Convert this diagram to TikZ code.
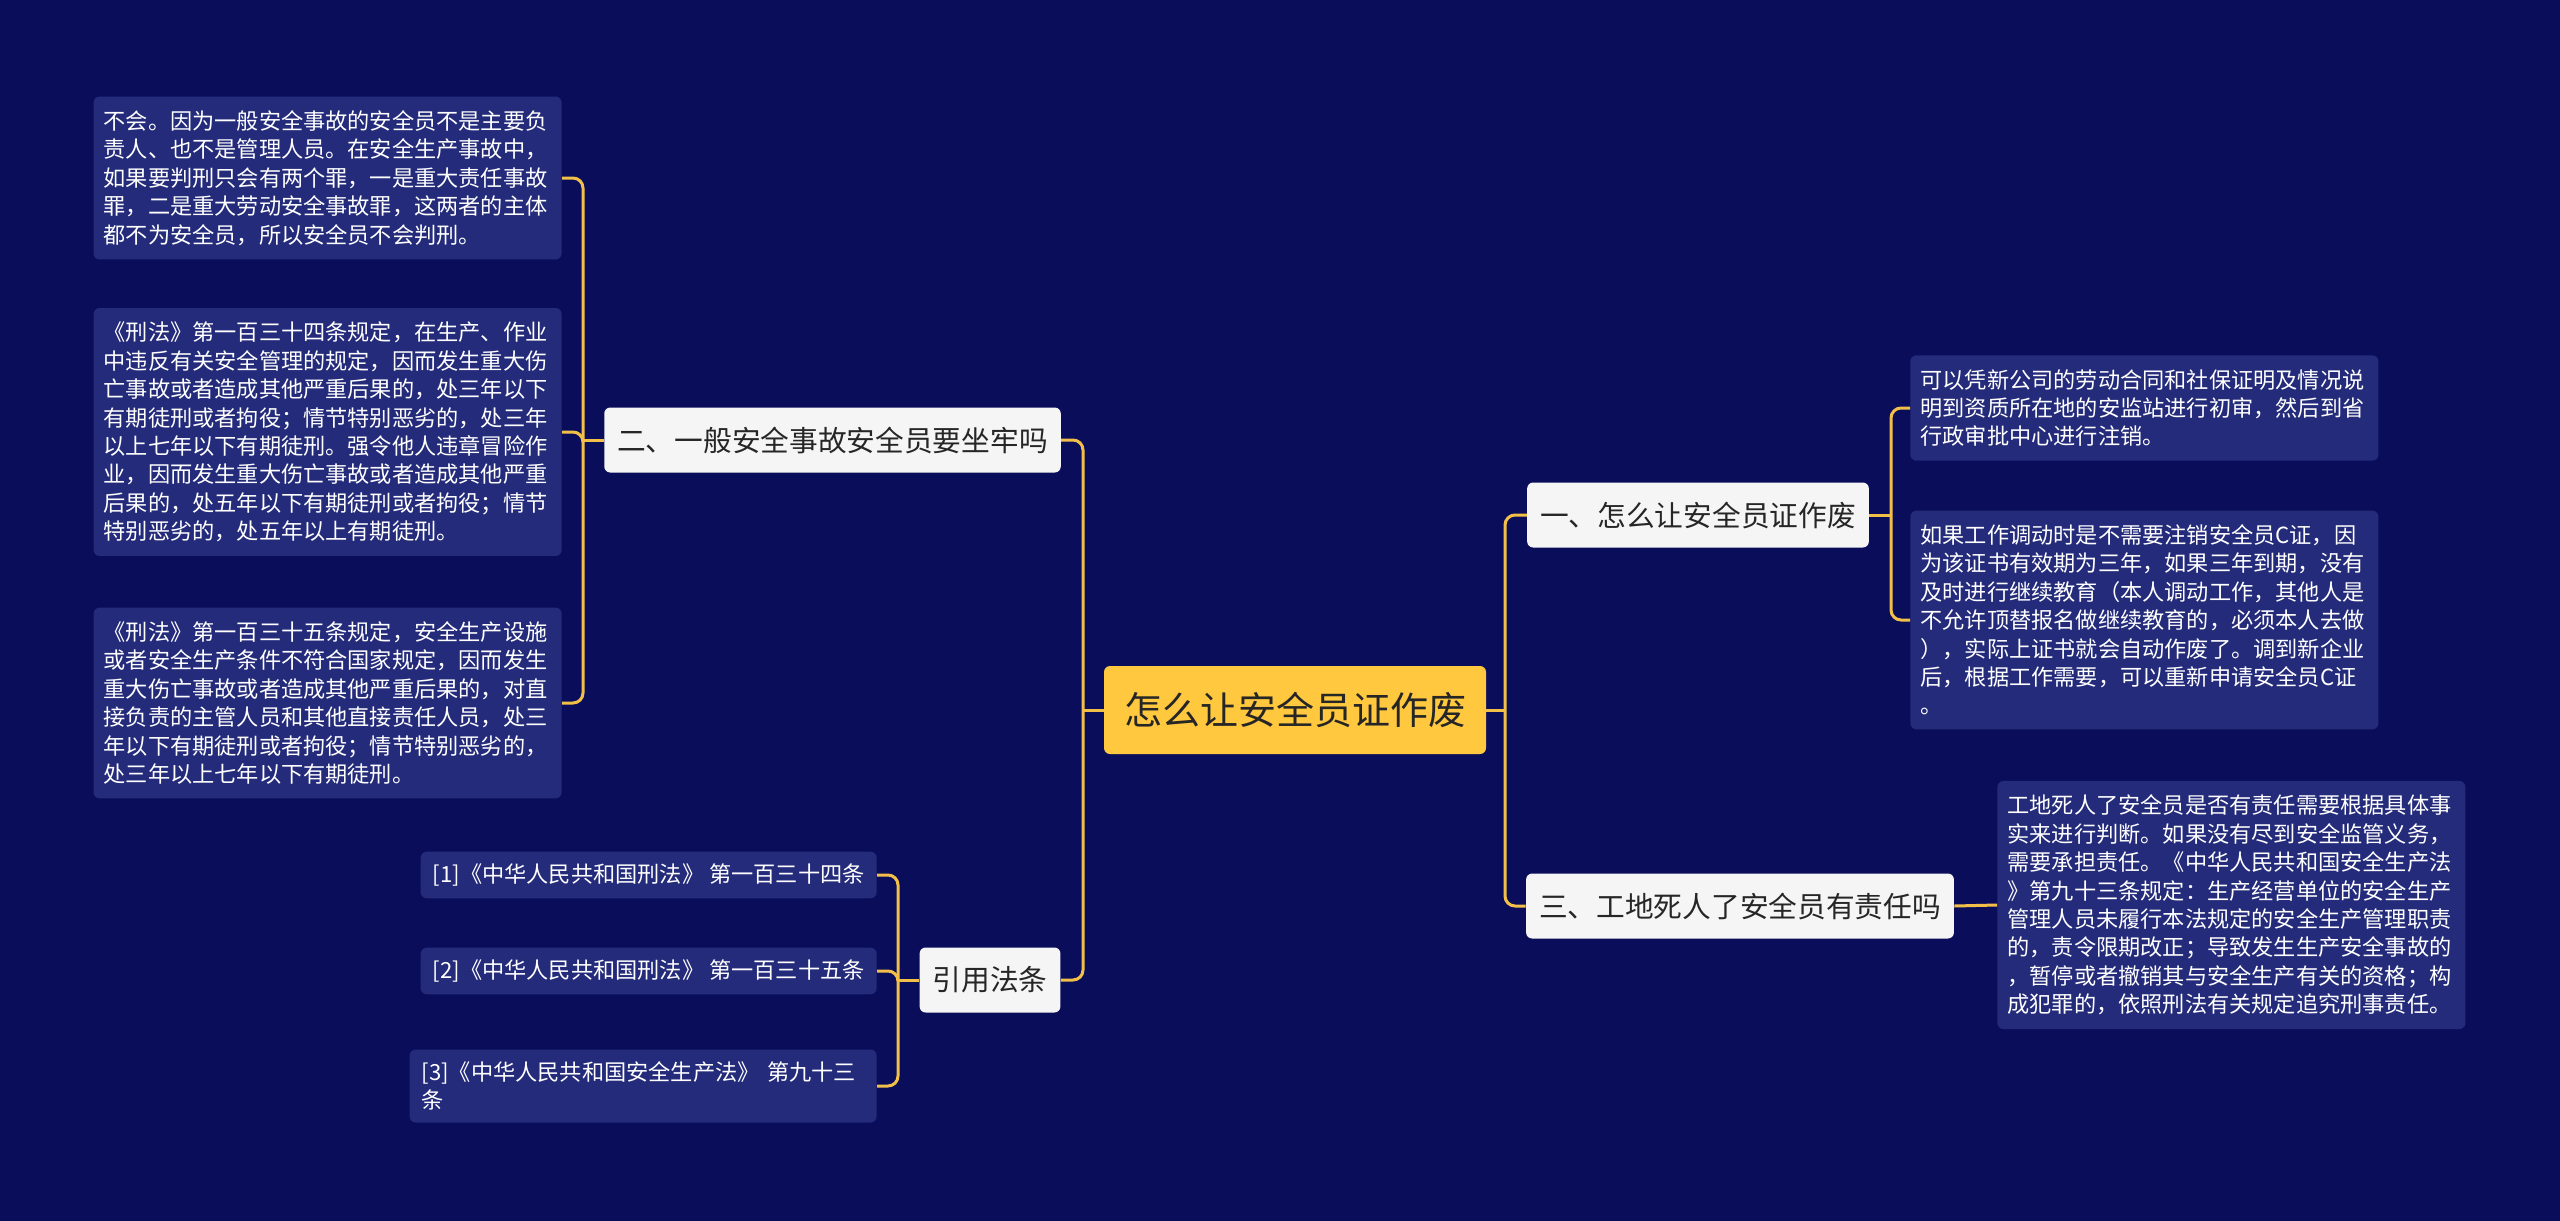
\documentclass[tikz,border=0pt]{standalone}
\usepackage{fontspec}
\setmainfont{Noto Sans CJK SC}
\usepackage{tikz}
\usetikzlibrary{arrows.meta}

\definecolor{bgnavy}{RGB}{10,14,90}
\definecolor{leafnavy}{RGB}{36,43,122}
\definecolor{rootgold}{RGB}{255,200,62}
\definecolor{linkgold}{RGB}{242,192,72}
\definecolor{branchwhite}{RGB}{245,245,245}
\definecolor{inkgray}{RGB}{38,38,38}

\tikzset{
	rootbox/.style = {rounded corners=3pt, fill=rootgold, text=inkgray,
		inner xsep=10pt, minimum height=44pt, font=\fontsize{19pt}{23pt}\selectfont},
	branchbox/.style = {rounded corners=3pt, fill=branchwhite, text=inkgray,
		inner xsep=6.5pt, minimum height=32.5pt, font=\fontsize{14.35pt}{17pt}\selectfont},
	leafbox/.style = {rounded corners=3pt, fill=leafnavy, text=white,
		inner xsep=5pt, inner ysep=7pt, text width=224pt, align=left,
		font=\fontsize{11.1pt}{14.2pt}\selectfont},
	refbox/.style = {rounded corners=3pt, fill=leafnavy, text=white,
		inner xsep=6pt, inner ysep=6pt, align=left,
		font=\fontsize{11.1pt}{14.2pt}\selectfont},
	link/.style = {draw=linkgold, line width=1.5pt, rounded corners=5pt},
	elbow/.style = {to path={|- (\tikztotarget)}}
}

\begin{document}
\begin{tikzpicture}[x=0.5pt,y=-0.5pt]
	\useasboundingbox (0,0) rectangle (2560,1221);
	\fill[bgnavy] (0,0) rectangle (2560,1221);
	% centre and first level
	\node[rootbox] (root) at (1295,710) {怎么让安全员证作废};
	\begin{scope}[every node/.style = branchbox]
		\node (jail) at (832.5,440) {二、一般安全事故安全员要坐牢吗};
		\node (laws) at (990,980) {引用法条};
		\node (void) at (1698,515) {一、怎么让安全员证作废};
		\node (duty) at (1740,906) {三、工地死人了安全员有责任吗};
	\end{scope}
	% answers
	\begin{scope}[every node/.style = leafbox]
		\node[anchor=east] (jail1) at (562,178) {不会。因为一般安全事故的安全员不是主要负\\责人、也不是管理人员。在安全生产事故中，\\如果要判刑只会有两个罪，一是重大责任事故\\罪，二是重大劳动安全事故罪，这两者的主体\\都不为安全员，所以安全员不会判刑。};
		\node[anchor=east] (jail2) at (562,432) {《刑法》第一百三十四条规定，在生产、作业\\中违反有关安全管理的规定，因而发生重大伤\\亡事故或者造成其他严重后果的，处三年以下\\有期徒刑或者拘役；情节特别恶劣的，处三年\\以上七年以下有期徒刑。强令他人违章冒险作\\业，因而发生重大伤亡事故或者造成其他严重\\后果的，处五年以下有期徒刑或者拘役；情节\\特别恶劣的，处五年以上有期徒刑。};
		\node[anchor=east] (jail3) at (562,703) {《刑法》第一百三十五条规定，安全生产设施\\或者安全生产条件不符合国家规定，因而发生\\重大伤亡事故或者造成其他严重后果的，对直\\接负责的主管人员和其他直接责任人员，处三\\年以下有期徒刑或者拘役；情节特别恶劣的，\\处三年以上七年以下有期徒刑。};
		\node[anchor=west] (void1) at (1910,408) {可以凭新公司的劳动合同和社保证明及情况说\\明到资质所在地的安监站进行初审，然后到省\\行政审批中心进行注销。};
		\node[anchor=west] (void2) at (1910,620) {如果工作调动时是不需要注销安全员C证，因\\为该证书有效期为三年，如果三年到期，没有\\及时进行继续教育（本人调动工作，其他人是\\不允许顶替报名做继续教育的，必须本人去做\\），实际上证书就会自动作废了。调到新企业\\后，根据工作需要，可以重新申请安全员C证\\。};
		\node[anchor=west] (duty1) at (1997,905) {工地死人了安全员是否有责任需要根据具体事\\实来进行判断。如果没有尽到安全监管义务，\\需要承担责任。《中华人民共和国安全生产法\\》第九十三条规定：生产经营单位的安全生产\\管理人员未履行本法规定的安全生产管理职责\\的，责令限期改正；导致发生生产安全事故的\\，暂停或者撤销其与安全生产有关的资格；构\\成犯罪的，依照刑法有关规定追究刑事责任。};
	\end{scope}
	\begin{scope}[every node/.style = refbox]
		\node[anchor=east] (law1) at (877,875) {[1]《中华人民共和国刑法》 第一百三十四条};
		\node[anchor=east] (law2) at (877,971) {[2]《中华人民共和国刑法》 第一百三十五条};
		\node[anchor=east, text width=221.5pt] (law3) at (877,1086) {[3]《中华人民共和国安全生产法》 第九十三\\条};
	\end{scope}
	% junctions
	\coordinate (jRootL) at (1083,710);
	\coordinate (jRootR) at (1505,710);
	\coordinate (jJail) at (583,440);
	\coordinate (jLaws) at (898,980);
	\coordinate (jVoid) at (1891,515);
	\begin{scope}[every edge/.style = link]
		\path (root.west) edge (jRootL);
		\path (jRootL) edge[elbow] (jail.east);
		\path (jRootL) edge[elbow] (laws.east);
		\path (root.east) edge (jRootR);
		\path (jRootR) edge[elbow] (void.west);
		\path (jRootR) edge[elbow] (duty.west);
		\path (jail.west) edge (jJail);
		\path (jJail) edge[elbow] (jail1.east);
		\path (jJail) edge[elbow] (jail2.east);
		\path (jJail) edge[elbow] (jail3.east);
		\path (laws.west) edge (jLaws);
		\path (jLaws) edge[elbow] (law1.east);
		\path (jLaws) edge[elbow] (law2.east);
		\path (jLaws) edge[elbow] (law3.east);
		\path (void.east) edge (jVoid);
		\path (jVoid) edge[elbow] (void1.west);
		\path (jVoid) edge[elbow] (void2.west);
		\path (duty.east) edge (duty1.west);
	\end{scope}
\end{tikzpicture}
\end{document}
